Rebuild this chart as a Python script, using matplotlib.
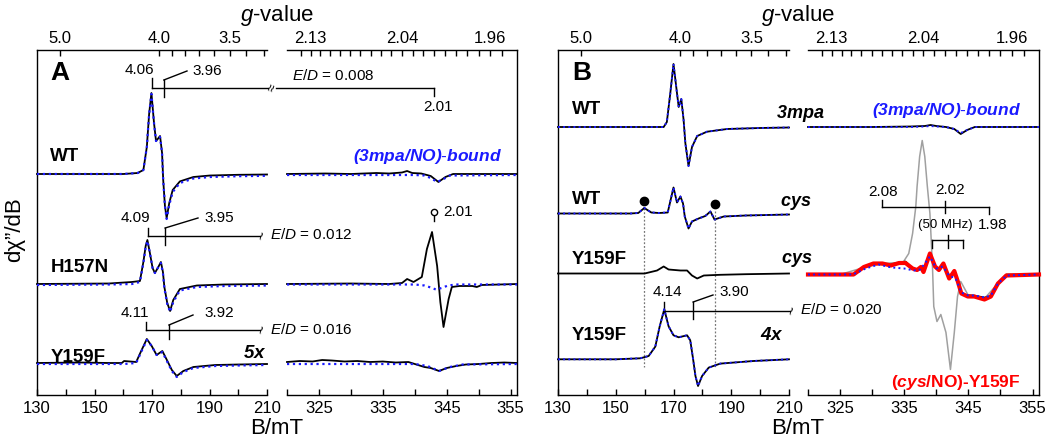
import numpy as np
import matplotlib.pyplot as plt
from matplotlib.ticker import FixedLocator, FormatStrFormatter

plt.rcParams['font.family'] = ['Liberation Sans', 'DejaVu Sans']
plt.rcParams['mathtext.fontset'] = 'custom'
plt.rcParams['mathtext.rm'] = 'Liberation Sans'
plt.rcParams['mathtext.it'] = 'Liberation Sans:italic'
plt.rcParams['mathtext.bf'] = 'Liberation Sans:bold'
plt.rcParams['mathtext.bfit'] = 'Liberation Sans:bold:italic'

K = 689.5  # h*nu/muB in mT (X-band)

# ---- panel A, low field (g ~ 4) -------------------------------------------
a_wt_B = [130, 150, 160, 165, 167.0, 168.2, 169.0, 169.8, 170.7, 171.4, 172.0,
          172.8, 173.5, 173.9, 174.5, 175.1, 176.0, 177.2, 179.7, 184.4, 190.2,
          200, 210]
a_wt = [0, 0, 0, 1, 4, 27, 60, 81, 51, 33, 35, 38, 21, -6, -32, -44, -29, -16,
        -7.4, -3, -1.5, -0.8, -0.5]
a_wt_sim = [0, 0, 0, 1, 4, 27, 60, 80, 51, 33, 35, 37, 21, -6, -32, -45, -31,
            -18, -9, -4.5, -3, -2.2, -1.8]

a_h_B = [130, 155, 163, 165.8, 167.0, 167.8, 168.4, 169.2, 170.2, 171.0, 172.2,
         173.1, 173.8, 174.3, 175.3, 176.3, 177.4, 179.7, 185.6, 195, 210]
a_h = [0, 0.5, 2, 3, 22, 38, 44, 32, 16, 11, 17, 22, 12, -3, -19, -27, -16, -5,
       -1.5, -0.5, 0]
a_h_sim = [-1, -0.5, 0, 2, 21, 37, 43, 32, 16, 11, 17, 21, 11, -4, -20, -28,
           -18, -6.5, -3, -2, -1.5]

a_y_B = [130, 145, 155, 159.5, 160.3, 164.5, 166.4, 168.2, 169.9, 171.6, 173.6,
         175.7, 176.9, 178.6, 180.9, 184.4, 192, 200, 210]
a_y = [0, 0.5, 0, 0, 2, 1, 13, 24, 17, 8, 12, 0, -7, -13, -8, -4, -2, -1.5, -1]
a_y_sim = [-1, -1, -1, -1, -1, 0, 12, 23, 17, 8, 11, -1, -8, -14, -9, -5, -3,
           -2.5, -2]

# ---- panel A, high field (g ~ 2) ------------------------------------------
ar_wt_B = [320, 326, 330, 334, 336, 338, 338.8, 339.6, 341, 342.5, 343.7,
           344.8, 346, 350, 356]
ar_wt = [0, 0.5, 0, 1, 0.5, 1.5, 3, 1, 0.5, -2, -8, -3, 0, 0, 0]
ar_wt_sim_B = [320, 340, 341.5, 342.5, 343.5, 344.5, 345.5, 356]
ar_wt_sim = [-1, -1, -1.5, -4, -8, -5, -1.5, -1]

ar_h_B = [320, 330, 336, 338.0, 338.8, 339.8, 341.1, 341.9, 342.7, 343.5,
          344.0, 344.5, 345.3, 345.8, 347, 349, 349.7, 350.5, 356]
ar_h = [0, 0.5, 0, 1, 5, 2, 7, 35, 52, 18, -18, -43, -15, -3, -2, -2, -3, -1, 0]
ar_h_sim_B = [320, 340, 341.5, 342.5, 343.3, 344.2, 345.2, 346.5, 356]
ar_h_sim = [-0.5, -0.5, -1.5, -3.5, -5.5, -4, -1.5, -0.5, -0.5]

ar_y_B = [320, 322, 324, 325.5, 327, 329, 331, 333, 335, 337, 339, 340.5,
          341.5, 342.5, 343.8, 345, 346.5, 348, 350, 352, 354, 356]
ar_y = [1, 2, 1.5, 3, 2.5, 1.5, 2, 1, 1.5, 0.5, 1, -2, -4, -5, -8, -5, -3,
        -1.5, -1, 0, 0.5, 0]
ar_y_sim_B = [320, 340, 342, 343.8, 345.5, 347.5, 356]
ar_y_sim = [-1, -1, -3, -8, -4, -1.5, -1]

# ---- panel B, low field ---------------------------------------------------
b_wt_B = [130, 160, 166.6, 167.7, 168.9, 170.0, 171.2, 171.8, 172.7, 173.5,
          174.1, 175.2, 176.4, 178.2, 181.6, 188.6, 200, 210]
b_wt = [0, 0, 0, 5, 34, 63, 34, 20, 28, 7, -16, -39, -20, -9, -4.7, -2, -1,
        -0.5]

b_wtc_B = [130, 155, 157.8, 159.9, 162.3, 165, 168, 170.0, 171.2, 172.4, 173.3,
           173.9, 175.2, 176.4, 178.7, 181.0, 182.8, 184.2, 187.4, 195, 210]
b_wtc = [0, 0, 0.5, 5.5, 1, 0.5, 1, 26, 11, 17, 10, -3, -15, -8, -5, -2.5, 2,
         -6, -3, -2, -1]

b_yc_B = [130, 160, 164.3, 166.6, 168.3, 172.4, 174.7, 176.4, 178.2, 180.5,
          186.2, 195, 210]
b_yc = [0, 0, 3, 7, 4, 3, 3, -2, -5, -2, -1.3, -0.7, 0]

b_y4_B = [130, 150, 158.5, 161.4, 163.7, 165.2, 166.8, 168.3, 170.0, 171.8,
          174.7, 175.8, 176.8, 177.6, 178.5, 179.9, 182.2, 186.2, 197.7, 210]
b_y4 = [0, 0, 1, 3.3, 12.7, 32.7, 50, 33, 24, 22, 24, 19, 0, -16.7, -26.7,
        -16.7, -8.3, -4.3, -1.7, 0]

# ---- panel B, high field --------------------------------------------------
br_wt_B = [320, 330, 336, 338.2, 339.1, 340, 341.5, 342.8, 343.8, 344.8, 346,
           356]
br_wt = [0, 0, 0.5, 1, 2, 1, 0, -2, -7, -3, 0, 0]
br_wt_sim = [0, 0, 0, 0.5, 1, 0.5, 0, -2, -6, -3, 0, 0]

br_red_B = [320, 325.0, 327.1, 328.7, 330.2, 331.6, 332.9, 334.2, 335.2, 336.3,
            337.0, 337.6, 338.0, 339.0, 339.8, 340.4, 341.1, 342.0, 342.8,
            343.3, 343.9, 344.9, 345.9, 347.5, 348.5, 349.6, 350.9, 356]
br_red = [0, 0, 0, 7.5, 11, 11, 9, 11.5, 11.5, 6, 4.5, 7.5, 2.5, 21, 8, 4.5,
          11, -4, 3.5, -6, -19, -22, -22, -25, -22, -9, -1, 0]
br_blk = [0, 0, 0, 7, 11, 10, 10, 12, 13, 6, 5, 7, 3, 20, 8, 5, 10, -3, 3, -5,
          -19, -21, -21, -23, -22, -9, 0, 0]
br_sim_B = [320, 327, 329, 331, 333, 335, 336.5, 337.5, 339.0, 340, 341, 342,
            343, 343.9, 345, 346, 347.5, 348.5, 349.6, 351, 356]
br_sim = [0, 0, 6, 10, 7, 6, 4, 5, 18, 6, 8, -1, -4, -18, -21, -21, -23, -21,
          -9, -1, 0]

br_gray_B = [320, 325, 328.7, 331.6, 334.2, 334.9, 335.7, 336.3, 336.8, 337.0,
             337.4, 337.8, 338.2, 338.6, 339.0, 339.1, 339.4, 339.6, 340.1,
             340.7, 341.5, 342.2, 342.8, 343.3, 343.8, 344.9, 347.5, 349.6,
             351, 356]
br_gray = [0, 0, 7, 11, 12, 13, 21, 41, 68, 88, 118, 134, 118, 88, 61, 48, 8,
           -32, -47, -40, -58, -95, -58, -22, -7, -20, -24, -9, -1, 0]

# === figure / axes ===========================================================
W, H = 1050, 445
fig = plt.figure(figsize=(W / 100, H / 100), dpi=100)

TOP, BOT = 50, 395


def yd(ypx):
    return BOT - ypx


def to_g(x):
    x = np.asarray(x, dtype=float)
    with np.errstate(divide='ignore'):
        return K / x


def make_ax(x0, x1, xlim, side):
    ax = fig.add_axes([x0 / W, (H - BOT) / H, (x1 - x0) / W, (BOT - TOP) / H])
    ax.set_xlim(*xlim)
    ax.set_ylim(0, BOT - TOP)
    ax.set_yticks([])
    ax.spines['top'].set_visible(False)
    ax.spines['right' if side == 'L' else 'left'].set_visible(False)
    for s in ax.spines.values():
        s.set_linewidth(1.0)
    sec = ax.secondary_xaxis('top', functions=(to_g, to_g))
    sec.spines['top'].set_linewidth(1.0)
    if side == 'L':
        ax.set_xticks([130, 150, 170, 190, 210])
        ax.xaxis.set_minor_locator(FixedLocator([140, 160, 180, 200]))
        sec.set_xticks([5.0, 4.0, 3.5])
        sec.xaxis.set_minor_locator(FixedLocator([3.9, 3.8, 3.7, 3.6, 3.4, 3.3]))
        sec.xaxis.set_major_formatter(FormatStrFormatter('%.1f'))
    else:
        ax.set_xticks([325, 335, 345, 355])
        ax.xaxis.set_minor_locator(FixedLocator([320, 330, 340, 350]))
        sec.set_xticks([2.13, 2.04, 1.96])
        sec.xaxis.set_minor_locator(FixedLocator(np.round(np.arange(1.95, 2.145, 0.01), 2)))
        sec.xaxis.set_major_formatter(FormatStrFormatter('%.2f'))
    ax.tick_params(axis='x', which='both', direction='in', length=4, width=1,
                   labelsize=12, pad=4)
    sec.tick_params(axis='x', which='both', direction='in', length=4, width=1,
                    labelsize=12, pad=3)
    return ax


axAL = make_ax(37, 267, (130, 210), 'L')
axAR = make_ax(287, 517, (320, 356), 'R')
axBL = make_ax(558, 789, (130, 210), 'L')
axBR = make_ax(808, 1039, (320, 356), 'R')

BLUE = '#1a1aff'


def trace(ax, B, amp, base, color='black', lw=1.3, ls='-', z=3):
    ax.plot(B, np.asarray(amp) + base, color=color, lw=lw, ls=ls, zorder=z,
            clip_on=False)


# panel A rows
A_ROWS = [yd(174), yd(284), yd(363)]
trace(axAL, a_wt_B, a_wt, A_ROWS[0])
trace(axAL, a_wt_B, a_wt_sim, A_ROWS[0], BLUE, 1.6, ':', 4)
trace(axAL, a_h_B, a_h, A_ROWS[1])
trace(axAL, a_h_B, a_h_sim, A_ROWS[1], BLUE, 1.6, ':', 4)
trace(axAL, a_y_B, a_y, A_ROWS[2])
trace(axAL, a_y_B, a_y_sim, A_ROWS[2], BLUE, 1.6, ':', 4)

trace(axAR, ar_wt_B, ar_wt, A_ROWS[0])
trace(axAR, ar_wt_sim_B, ar_wt_sim, A_ROWS[0], BLUE, 1.6, ':', 4)
trace(axAR, ar_h_B, ar_h, A_ROWS[1])
trace(axAR, ar_h_sim_B, ar_h_sim, A_ROWS[1], BLUE, 1.6, ':', 4)
trace(axAR, ar_y_B, ar_y, A_ROWS[2])
trace(axAR, ar_y_sim_B, ar_y_sim, A_ROWS[2], BLUE, 1.6, ':', 4)

# panel B rows
B_ROWS = [yd(127), yd(213.5), yd(273.5), yd(359.3)]
trace(axBL, b_wt_B, b_wt, B_ROWS[0])
trace(axBL, b_wt_B, b_wt, B_ROWS[0], BLUE, 1.4, ':', 4)
trace(axBL, b_wtc_B, b_wtc, B_ROWS[1])
trace(axBL, b_wtc_B, b_wtc, B_ROWS[1], BLUE, 1.4, ':', 4)
trace(axBL, b_yc_B, b_yc, B_ROWS[2])
trace(axBL, b_y4_B, b_y4, B_ROWS[3])
trace(axBL, b_y4_B, b_y4, B_ROWS[3], BLUE, 1.4, ':', 4)

trace(axBR, br_wt_B, br_wt, B_ROWS[0])
trace(axBR, br_wt_B, br_wt_sim, B_ROWS[0], BLUE, 1.4, ':', 4)
trace(axBR, br_gray_B, br_gray, B_ROWS[2] - 1, '#a0a0a0', 1.1, '-', 2)
trace(axBR, br_red_B, br_blk, B_ROWS[2] - 1, 'black', 1.2, '-', 3)
trace(axBR, br_red_B, br_red, B_ROWS[2] - 1, 'red', 3.0, '-', 4)
trace(axBR, br_sim_B, br_sim, B_ROWS[2] - 1, BLUE, 1.4, ':', 5)

# === annotation helpers ======================================================


def ftxt(x, y, s, ha='center', va='center', **kw):
    fig.text(x / W, 1 - y / H, s, ha=ha, va=va, **kw)


def seg(ax, xs, ys, **kw):
    kw.setdefault('color', 'black')
    kw.setdefault('lw', 1.0)
    ax.plot(xs, [yd(v) for v in ys], clip_on=False, **kw)


def px2B(ax, xpx, x0, x1):
    lo, hi = ax.get_xlim()
    return lo + (xpx - x0) / (x1 - x0) * (hi - lo)


AN = 11

# panel A - WT bracket
y0 = 88
seg(axAL, [K / 4.06] * 2, [78, y0])
seg(axAL, [K / 4.06, px2B(axAL, 268, 37, 267)], [y0, y0])
seg(axAL, [K / 3.96] * 2, [80, 97])
seg(axAL, [K / 3.96, px2B(axAL, 187, 37, 267)], [80, 71])
seg(axAR, [px2B(axAR, 276, 287, 517), K / 2.01], [y0, y0])
seg(axAR, [K / 2.01] * 2, [y0, 96])
ftxt(272, y0, '≈', rotation=70, fontsize=10)
ftxt(139, 70, '4.06', fontsize=AN)
ftxt(207, 71, '3.96', fontsize=AN)
ftxt(292, 76, r'$E/D$ = 0.008', ha='left', fontsize=AN)
ftxt(438, 107, '2.01', fontsize=AN)

# panel A - H157N bracket
y0 = 236
seg(axAL, [K / 4.09] * 2, [228, y0])
seg(axAL, [K / 4.09, px2B(axAL, 260, 37, 267)], [y0, y0])
seg(axAL, [K / 3.95] * 2, [228, 245])
seg(axAL, [K / 3.95, px2B(axAL, 198, 37, 267)], [228, 218])
ftxt(263, y0, '~', rotation=75, fontsize=11)
ftxt(270, y0 - 1, r'$E/D$ = 0.012', ha='left', fontsize=AN)
ftxt(135, 218, '4.09', fontsize=AN)
ftxt(219, 218, '3.95', fontsize=AN)
seg(axAR, [K / 2.01] * 2, [215, 221])
axAR.plot([K / 2.01], [yd(212)], 'o', ms=4.5, mfc='white', mec='black',
          mew=1.0, clip_on=False)
ftxt(443, 212, '2.01', ha='left', fontsize=AN)

# panel A - Y159F bracket
y0 = 330
seg(axAL, [K / 4.11] * 2, [322, y0])
seg(axAL, [K / 4.11, px2B(axAL, 260, 37, 267)], [y0, y0])
seg(axAL, [K / 3.92] * 2, [325, 339])
seg(axAL, [K / 3.92, px2B(axAL, 193, 37, 267)], [325, 315])
ftxt(263, y0, '~', rotation=75, fontsize=11)
ftxt(270, y0 - 1, r'$E/D$ = 0.016', ha='left', fontsize=AN)
ftxt(135, 313, '4.11', fontsize=AN)
ftxt(219, 313, '3.92', fontsize=AN)

# panel A labels
ftxt(60, 73, 'A', fontsize=19, fontweight='bold')
ftxt(50, 157, 'WT', ha='left', fontsize=13.5, fontweight='bold')
ftxt(51, 267, 'H157N', ha='left', fontsize=13.5, fontweight='bold')
ftxt(51, 357, 'Y159F', ha='left', fontsize=13.5, fontweight='bold')
ftxt(266, 353, r'$\mathbfit{5x}$', ha='right', fontsize=13.5)
ftxt(427, 157, r'$\mathbfit{(3mpa/NO)}$-$\mathbfit{bound}$', fontsize=12.5,
     color=BLUE)

# panel B - dots and dotted guides
for Bv, ydot in [(159.9, 201), (184.2, 204)]:
    axBL.plot([Bv], [yd(ydot)], 'o', ms=6, color='black', clip_on=False,
              zorder=6)
    seg(axBL, [Bv, Bv], [ydot + 7, 367], color='#777777', lw=0.9, ls=(0, (1.5, 1.5)))

# panel B - Y159F 4x bracket
y0 = 311
seg(axBL, [K / 4.14] * 2, [302, y0])
seg(axBL, [K / 4.14, px2B(axBL, 790, 558, 789)], [y0, y0])
seg(axBL, [K / 3.90] * 2, [302, 319])
seg(axBL, [K / 3.90, px2B(axBL, 713, 558, 789)], [302, 295])
ftxt(793, y0, '~', rotation=75, fontsize=11)
ftxt(800, y0 - 1, r'$E/D$ = 0.020', ha='left', fontsize=AN)
ftxt(667, 292, '4.14', fontsize=AN)
ftxt(734, 292, '3.90', fontsize=AN)

# panel B - g bracket on right
y0 = 207
seg(axBR, [K / 2.08, K / 1.98], [y0, y0])
seg(axBR, [K / 2.08] * 2, [200, y0])
seg(axBR, [K / 1.98] * 2, [y0, 214])
seg(axBR, [K / 2.02] * 2, [201, 213])
ftxt(883, 192, '2.08', fontsize=AN)
ftxt(950, 190, '2.02', fontsize=AN)
ftxt(993, 225, '1.98', fontsize=AN)
ftxt(945, 225, '(50 MHz)', fontsize=9.5)
hf = [339.4, 341.75, 344.1]
seg(axBR, [hf[0], hf[2]], [240, 240])
for v in hf:
    seg(axBR, [v, v], [240, 248])
seg(axBR, [hf[1], hf[1]], [235, 240])

# panel B labels
ftxt(582, 73, 'B', fontsize=19, fontweight='bold')
ftxt(572, 110, 'WT', ha='left', fontsize=13.5, fontweight='bold')
ftxt(572, 200, 'WT', ha='left', fontsize=13.5, fontweight='bold')
ftxt(572, 259, 'Y159F', ha='left', fontsize=13.5, fontweight='bold')
ftxt(572, 335, 'Y159F', ha='left', fontsize=13.5, fontweight='bold')
ftxt(800, 113, r'$\mathbfit{3mpa}$', fontsize=13)
ftxt(796, 203, r'$\mathbfit{cys}$', fontsize=13)
ftxt(797, 260, r'$\mathbfit{cys}$', fontsize=13)
ftxt(772, 335, r'$\mathbfit{4x}$', fontsize=13.5)
ftxt(946, 110, r'$\mathbfit{(3mpa/NO)}$-$\mathbfit{bound}$', fontsize=12.5,
     color=BLUE)
ftxt(956, 382, r'($\mathbfit{cys}$/NO)-Y159F', fontsize=12.5,
     fontweight='bold', color='red')

# axis titles
for xc in (277, 798):
    ftxt(xc, 15, r'$g$-value', fontsize=16)
    ftxt(xc, 428, 'B/mT', fontsize=16)
ftxt(15, 230, 'dχ\u201d/dB', rotation=90, fontsize=16)

fig.savefig('out.png', dpi=100)
